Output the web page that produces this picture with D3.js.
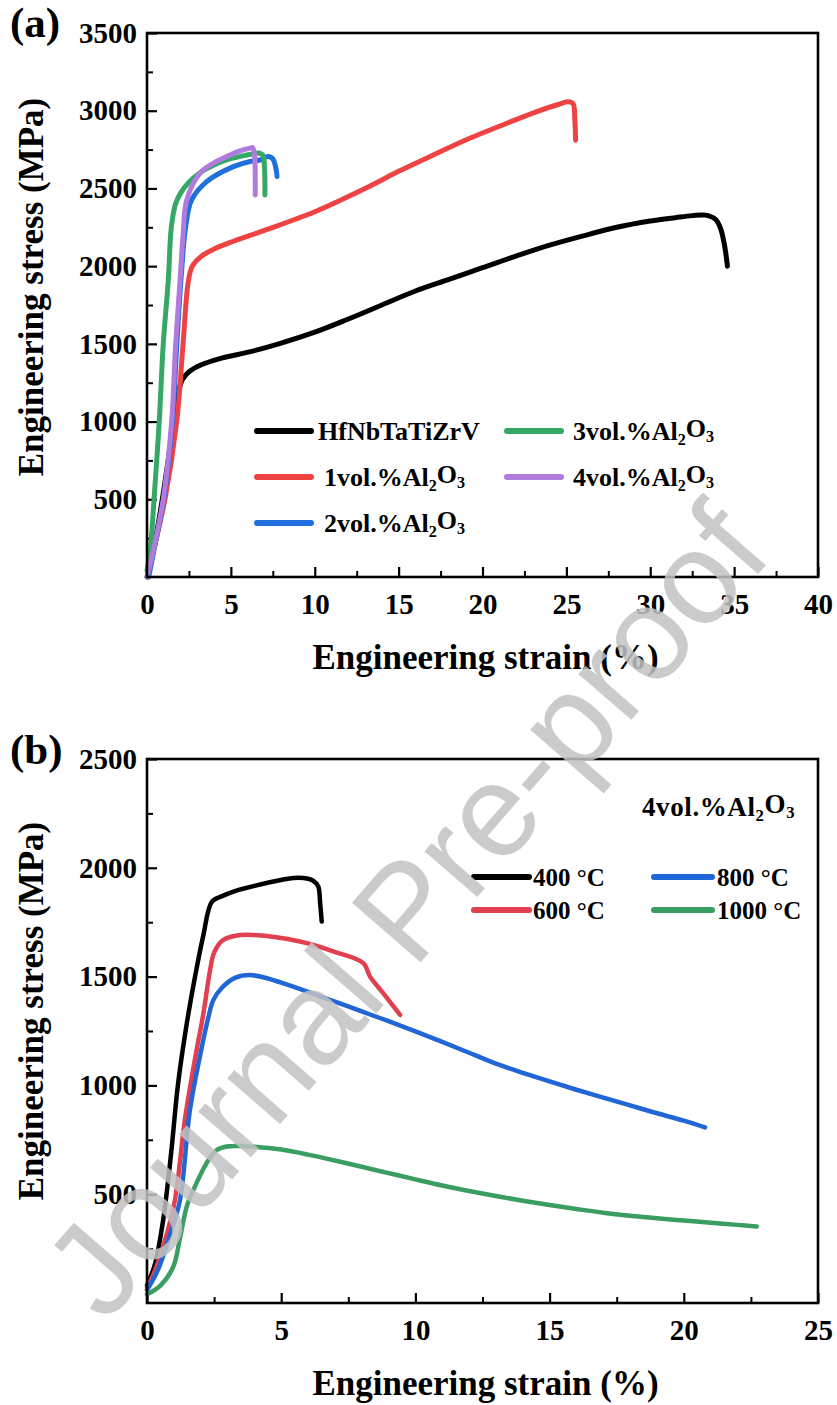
<!DOCTYPE html>
<html>
<head>
<meta charset="utf-8">
<script src="https://cdn.jsdelivr.net/npm/d3@7"></script>
<style>
  body { margin: 0; background: #fff; }
  svg { display: block; }
  .serif { font-family: 'Liberation Serif', 'Times New Roman', serif; font-weight: bold; }
</style>
</head>
<body>
<div id="chart"></div>
<script>
// Stress-strain data: [strain %, stress MPa]

// Panel (a): room temperature, Al2O3 content
let seriesNamesA = ['HfNbTaTiZrV', '1vol.%Al_2O_3', '2vol.%Al_2O_3', '3vol.%Al_2O_3', '4vol.%Al_2O_3'];
let colorsA = ['#000000', '#ef4343', '#1f6fdc', '#36a866', '#b07bdc'];

let curveHf = [[0, 0], [0.5, 240], [1.0, 560], [1.6, 1000], [1.9, 1200], [2.1, 1268], [2.5, 1320], [3.2, 1364],
  [4.5, 1410], [6.1, 1448], [8, 1505], [10, 1575], [12, 1660], [14, 1750], [16, 1840], [18, 1915], [20, 1990],
  [22, 2065], [24, 2135], [26, 2195], [28, 2250], [30, 2290], [31.5, 2312], [32.5, 2325], [33.3, 2328],
  [33.9, 2300], [34.2, 2240], [34.45, 2120], [34.6, 2000]];
let curve1vol = [[0.05, 0], [0.5, 220], [1.07, 500], [1.77, 1000], [2.15, 1500], [2.46, 1900], [2.7, 2000],
  [3.2, 2060], [4, 2110], [5.15, 2160], [7, 2230], [10, 2350], [13, 2500], [15, 2610], [17, 2712], [19, 2812],
  [21, 2900], [23, 2985], [24.5, 3040], [25.1, 3058], [25.4, 3045], [25.5, 2950], [25.55, 2810]];
let curve2vol = [[0.1, 0], [0.5, 220], [0.97, 480], [1.5, 980], [1.78, 1500], [2.05, 1950], [2.3, 2250],
  [2.66, 2426], [3.56, 2544], [5.15, 2640], [6.2, 2675], [6.74, 2683], [7.2, 2705], [7.5, 2690], [7.7, 2620],
  [7.75, 2576]];
let curve3vol = [[0, 40], [0.2, 180], [0.42, 500], [0.73, 1000], [0.97, 1500], [1.27, 1911], [1.45, 2250],
  [1.7, 2400], [2.0, 2470], [2.5, 2540], [3.16, 2600], [4.0, 2650], [4.75, 2683], [5.5, 2705], [6.1, 2718],
  [6.6, 2728], [6.9, 2715], [7.0, 2640], [7.03, 2458]];
let curve4vol = [[0, 0], [0.4, 180], [0.97, 500], [1.47, 1000], [1.71, 1500], [1.97, 1911], [2.15, 2200],
  [2.37, 2426], [3.16, 2598], [4, 2665], [4.75, 2705], [5.5, 2740], [6.14, 2759], [6.3, 2762], [6.42, 2700],
  [6.45, 2600], [6.45, 2458]];

// Panel (b): 4vol.% Al2O3 at high temperature
let seriesNamesB = ['400 \u00B0C', '600 \u00B0C', '800 \u00B0C', '1000 \u00B0C'];
let colorsB = ['#000000', '#e0404f', '#2166d6', '#3a9e62'];

let curve400 = [[0, 80], [0.3, 180], [0.6, 380], [0.9, 690], [1.15, 1000], [1.45, 1260], [1.79, 1500],
  [2.1, 1690], [2.42, 1845], [2.8, 1870], [3.22, 1891], [4.46, 1930], [5.45, 1953], [6.0, 1950], [6.2, 1940],
  [6.38, 1915], [6.45, 1838], [6.51, 1753]];
let curve600 = [[0, 70], [0.3, 150], [0.7, 300], [1.04, 473], [1.42, 850], [1.8, 1130], [2.1, 1330],
  [2.35, 1530], [2.5, 1610], [2.8, 1665], [3.3, 1688], [3.96, 1691], [5.7, 1661], [6.94, 1616], [8.06, 1562],
  [8.31, 1500], [8.8, 1424], [9.43, 1324]];
let curve800 = [[0, 60], [0.4, 150], [0.9, 330], [1.23, 473], [1.6, 887], [2.0, 1150], [2.3, 1320],
  [2.47, 1392], [2.8, 1450], [3.3, 1495], [3.84, 1507], [4.4, 1495], [5, 1472], [6, 1430], [7, 1385],
  [8, 1340], [9, 1295], [10, 1248], [11, 1200], [12, 1150], [13, 1100], [14, 1058], [15, 1018], [16, 980],
  [17, 944], [18, 908], [19, 872], [20, 838], [20.79, 807]];
let curve1000 = [[0, 40], [0.5, 80], [0.98, 167], [1.23, 300], [1.48, 443], [1.73, 520], [2.22, 643],
  [2.6, 703], [2.97, 719], [3.5, 721], [4, 718], [5, 705], [6, 682], [7, 655], [8, 626], [9, 597], [10, 568],
  [11, 540], [12, 515], [13, 492], [14, 470], [15, 450], [16, 432], [17, 415], [18, 401], [19, 389],
  [20, 379], [21, 369], [22, 359], [22.72, 352]];

// Tick values
let xTicksA = [0, 5, 10, 15, 20, 25, 30, 35, 40];
let yTicksA = [500, 1000, 1500, 2000, 2500, 3000, 3500];
let xTicksB = [0, 5, 10, 15, 20, 25];
let yTicksB = [500, 1000, 1500, 2000, 2500];

let svgWidth = 837;
let svgHeight = 1405;

let svg = d3.select('#chart')
  .append('svg')
  .attr('width', svgWidth)
  .attr('height', svgHeight);

// Write text with "_x" parts as subscripts
function richText(sel, str) {
  let parts = str.split(/(_.)/).filter(p => p.length);
  let shifted = false;
  parts.forEach(p => {
    if (p[0] === '_') {
      sel.append('tspan').attr('font-size', '0.62em').attr('dy', '0.3em').text(p[1]);
      shifted = true;
    } else {
      let t = sel.append('tspan').text(p);
      if (shifted) t.attr('dy', '-0.3em');
      shifted = false;
    }
  });
}

// Draw one framed panel with inward ticks
function drawPanel(cfg) {
  let x = d3.scaleLinear().domain([0, cfg.xMax]).range([cfg.left, cfg.right]);
  let y = d3.scaleLinear().domain([0, cfg.yMax]).range([cfg.bottom, cfg.top]);
  let g = svg.append('g');

  // minor ticks
  let xMinor = d3.range(2.5, cfg.xMax, 5);
  let yMinor = d3.range(250, cfg.yMax, 500);
  g.append('g')
    .attr('transform', `translate(0, ${cfg.bottom})`)
    .call(d3.axisBottom(x).tickValues(xMinor).tickSize(-6).tickSizeOuter(0))
    .call(a => a.select('.domain').remove())
    .call(a => a.selectAll('text').remove())
    .selectAll('line').attr('stroke-width', 2);
  g.append('g')
    .attr('transform', `translate(${cfg.left}, 0)`)
    .call(d3.axisLeft(y).tickValues(yMinor).tickSize(-6).tickSizeOuter(0))
    .call(a => a.select('.domain').remove())
    .call(a => a.selectAll('text').remove())
    .selectAll('line').attr('stroke-width', 2);

  // major ticks + labels
  let xAxis = g.append('g')
    .attr('transform', `translate(0, ${cfg.bottom})`)
    .call(d3.axisBottom(x).tickValues(cfg.xTicks).tickFormat(d3.format('d'))
      .tickSize(-10).tickSizeOuter(0).tickPadding(16))
    .call(a => a.select('.domain').remove());
  let yAxis = g.append('g')
    .attr('transform', `translate(${cfg.left}, 0)`)
    .call(d3.axisLeft(y).tickValues(cfg.yTicks).tickFormat(d3.format('d'))
      .tickSize(-10).tickSizeOuter(0).tickPadding(10))
    .call(a => a.select('.domain').remove());
  [xAxis, yAxis].forEach(a => {
    a.selectAll('line').attr('stroke-width', 2.2);
    a.selectAll('text')
      .attr('class', 'serif')
      .attr('font-size', '29px')
      .attr('fill', '#000');
  });

  // curves
  let line = d3.line()
    .x(d => x(d[0]))
    .y(d => y(d[1]))
    .curve(d3.curveCatmullRom.alpha(0.5));
  cfg.series.forEach((s, i) => {
    g.append('path')
      .datum(s)
      .attr('d', line)
      .attr('fill', 'none')
      .attr('stroke', cfg.colors[i])
      .attr('stroke-width', cfg.lineWidth)
      .attr('stroke-linejoin', 'round')
      .attr('stroke-linecap', 'round');
  });

  // frame
  g.append('rect')
    .attr('x', cfg.left)
    .attr('y', cfg.top)
    .attr('width', cfg.right - cfg.left)
    .attr('height', cfg.bottom - cfg.top)
    .attr('fill', 'none')
    .attr('stroke', '#000')
    .attr('stroke-width', 2.6);

  // axis titles
  g.append('text')
    .attr('class', 'serif')
    .attr('x', (cfg.left + cfg.right) / 2 + 3)
    .attr('y', cfg.bottom + 92)
    .attr('text-anchor', 'middle')
    .attr('font-size', '35px')
    .text('Engineering strain (%)');
  g.append('text')
    .attr('class', 'serif')
    .attr('transform', `translate(43, ${cfg.yTitleY}) rotate(-90)`)
    .attr('text-anchor', 'middle')
    .attr('font-size', '35px')
    .text('Engineering stress (MPa)');

  // panel letter
  g.append('text')
    .attr('class', 'serif')
    .attr('x', 10)
    .attr('y', cfg.letterY)
    .attr('font-size', '43px')
    .text(cfg.letter);

  // legend
  cfg.legend.forEach((item, i) => {
    g.append('line')
      .attr('x1', item.x1).attr('x2', item.x2)
      .attr('y1', item.y).attr('y2', item.y)
      .attr('stroke', cfg.colors[i])
      .attr('stroke-width', 6)
      .attr('stroke-linecap', 'round');
    let t = g.append('text')
      .attr('class', 'serif')
      .attr('x', item.tx)
      .attr('y', item.y + 9)
      .attr('font-size', cfg.legendFont);
    richText(t, cfg.names[i]);
  });

  return g;
}

// Panel (a)
drawPanel({
  left: 147, right: 818, top: 33, bottom: 577,
  xMax: 40, yMax: 3500, xTicks: xTicksA, yTicks: yTicksA,
  series: [curveHf, curve1vol, curve2vol, curve3vol, curve4vol],
  colors: colorsA, names: seriesNamesA, lineWidth: 5,
  yTitleY: 287, letter: '(a)', letterY: 37, legendFont: '26px',
  legend: [
    {x1: 257, x2: 311, y: 431, tx: 318},
    {x1: 257, x2: 311, y: 477, tx: 324},
    {x1: 257, x2: 311, y: 523, tx: 324},
    {x1: 507, x2: 561, y: 431, tx: 573},
    {x1: 507, x2: 561, y: 477, tx: 573}
  ]
});

// Panel (b)
let gB = drawPanel({
  left: 147, right: 818, top: 759, bottom: 1303,
  xMax: 25, yMax: 2500, xTicks: xTicksB, yTicks: yTicksB,
  series: [curve400, curve600, curve800, curve1000],
  colors: colorsB, names: seriesNamesB, lineWidth: 4.5,
  yTitleY: 1011, letter: '(b)', letterY: 764, legendFont: '25px',
  legend: [
    {x1: 474, x2: 529, y: 877, tx: 533},
    {x1: 474, x2: 529, y: 910, tx: 533},
    {x1: 654, x2: 712, y: 877, tx: 717},
    {x1: 654, x2: 712, y: 910, tx: 717}
  ]
});

let note = gB.append('text')
  .attr('class', 'serif')
  .attr('x', 642)
  .attr('y', 816)
  .attr('font-size', '27px')
  .attr('letter-spacing', '0.6px');
richText(note, '4vol.%Al_2O_3');

// Watermark across the page
svg.append('text')
  .attr('transform', 'translate(440, 940) rotate(-49)')
  .attr('text-anchor', 'middle')
  .attr('font-family', "'Liberation Sans', Arial, sans-serif")
  .attr('font-size', '132px')
  .attr('fill', '#c2c2c2')
  .attr('fill-opacity', 0.85)
  .text('Journal Pre-proof');
</script>
</body>
</html>
